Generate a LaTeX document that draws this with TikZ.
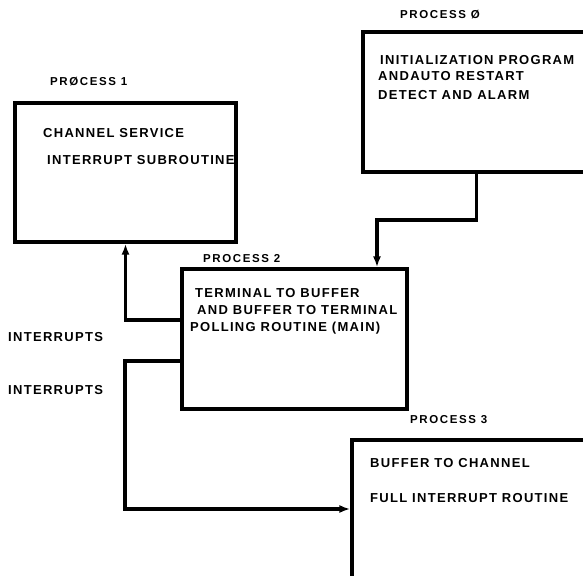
\documentclass[tikz,border=0pt]{standalone}
\usepackage{fontspec}
\setmainfont{Liberation Sans}[LetterSpace=10]
\usetikzlibrary{arrows.meta,calc,positioning}

\begin{document}
\begin{tikzpicture}[x=1pt,y=-1pt,
    procbox/.style={draw=black,line width=3.2pt,inner sep=0pt},
    boxtext/.style={anchor=base west,inner sep=0pt,font=\fontsize{13}{15}\selectfont\bfseries},
    proclabel/.style={anchor=base west,inner sep=0pt,font=\fontsize{11.5}{13}\selectfont\bfseries\addfontfeature{LetterSpace=14}},
    conn/.style={line width=3.2pt},
    arr/.style={-{Latex[length=11pt,width=8pt]}}]
  \useasboundingbox (0,0) rectangle (583,575);
  \clip (0,0) rectangle (583,575);
  % process boxes
  \node[procbox,minimum width=227pt,minimum height=140pt] (p0) at (476.5,102) {};
  \node[procbox,minimum width=221pt,minimum height=139pt] (p1) at (125.5,172.5) {};
  \node[procbox,minimum width=225pt,minimum height=140pt] (p2) at (294.5,339) {};
  \node[procbox,minimum width=238pt,minimum height=145pt] (p3) at (471,512.5) {};
  % titles
  \node[proclabel] (t0) at (400,19) {PROCESS Ø};
  \node[proclabel] (t1) at (50,86) {PRØCESS 1};
  \node[proclabel] (t2) at (203,262) {PROCESS 2};
  \node[proclabel] (t3) at (410,423) {PROCESS 3};
  % box texts
  \node[boxtext] (a0) at (380,64.5) {INITIALIZATION PROGRAM};
  \node[boxtext] (b0) at (378,80.5) {ANDAUTO RESTART};
  \node[boxtext] (c0) at (378,99.5) {DETECT AND ALARM};
  \node[boxtext] (a1) at (43,137.5) {CHANNEL SERVICE};
  \node[boxtext] (b1) at (47,164.5) {INTERRUPT SUBROUTINE};
  \node[boxtext] (a2) at (195,297.5) {TERMINAL TO BUFFER};
  \node[boxtext] (b2) at (197,314.5) {AND BUFFER TO TERMINAL};
  \node[boxtext] (c2) at (190,331.5) {POLLING ROUTINE (MAIN)};
  \node[boxtext] (a3) at (370,467.5) {BUFFER TO CHANNEL};
  \node[boxtext] (b3) at (370,502.5) {FULL INTERRUPT ROUTINE};
  % side labels
  \node[boxtext] (i1) at (8,341.5) {INTERRUPTS};
  \node[boxtext] (i2) at (8,394.5) {INTERRUPTS};
  % connectors
  \coordinate (j0) at (377,220);
  \coordinate (s1) at (182,320);
  \coordinate (s2) at (182,361);
  \coordinate (k2) at (125,509);
  \draw[conn,arr] (p0.south) |- (j0) -- (j0 |- p2.north);
  \draw[conn,arr] (s1) -| (p1.south);
  \draw[conn,arr] (s2) -| (k2) -- (k2 -| p3.west);
\end{tikzpicture}
\end{document}
